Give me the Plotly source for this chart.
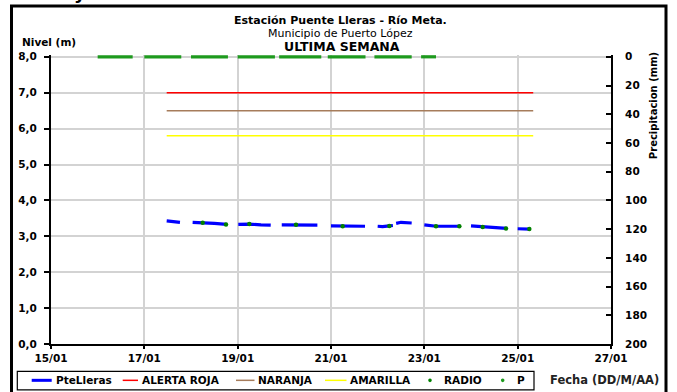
import plotly.graph_objects as go

# ---------------- data ----------------
LEVEL_TIME = [
    "2014-01-17 11:30", "2014-01-17 14:30", "2014-01-17 18:20", None,
    "2014-01-18 00:50", "2014-01-18 06:00", "2014-01-18 12:00", "2014-01-18 18:20", None,
    "2014-01-19 00:20", "2014-01-19 06:00", "2014-01-19 12:00", "2014-01-19 17:00", None,
    "2014-01-19 22:40", "2014-01-20 06:00", "2014-01-20 12:00", "2014-01-20 17:00", None,
    "2014-01-21 00:00", "2014-01-21 06:00", "2014-01-21 12:00", "2014-01-21 17:30", None,
    "2014-01-22 00:00", "2014-01-22 02:30", "2014-01-22 06:00", "2014-01-22 07:50", None,
    "2014-01-22 09:30", "2014-01-22 12:00", "2014-01-22 17:30", None,
    "2014-01-23 00:00", "2014-01-23 06:00", "2014-01-23 12:00", "2014-01-23 18:20", None,
    "2014-01-24 00:00", "2014-01-24 06:00", "2014-01-24 12:00", "2014-01-24 18:20", None,
    "2014-01-25 00:00", "2014-01-25 06:15",
]
LEVEL_M = [
    3.43, 3.41, 3.39, None,
    3.39, 3.38, 3.36, 3.33, None,
    3.33, 3.34, 3.32, 3.31, None,
    3.32, 3.32, 3.31, 3.31, None,
    3.29, 3.28, 3.28, 3.28, None,
    3.28, 3.27, 3.29, 3.30, None,
    3.36, 3.39, 3.37, None,
    3.32, 3.28, 3.28, 3.28, None,
    3.29, 3.26, 3.24, 3.22, None,
    3.21, 3.20,
]

RADIO_TIME = ["2014-01-18 06:00", "2014-01-18 18:00", "2014-01-19 06:00", "2014-01-20 06:00",
              "2014-01-21 06:00", "2014-01-22 06:00", "2014-01-23 06:00", "2014-01-23 18:00",
              "2014-01-24 06:00", "2014-01-24 18:00", "2014-01-25 06:00"]
RADIO_M = [3.38, 3.33, 3.34, 3.32, 3.28, 3.29, 3.28, 3.28, 3.26, 3.22, 3.20]

THRESH_TIME = ["2014-01-17 11:30", "2014-01-25 08:00"]
ALERTA_ROJA = [7.0, 7.0]
NARANJA = [6.5, 6.5]
AMARILLA = [5.8, 5.8]

P_TIME = [
    "2014-01-16 00:00", "2014-01-16 18:00", None,
    "2014-01-17 00:00", "2014-01-17 19:00", None,
    "2014-01-18 00:00", "2014-01-18 19:00", None,
    "2014-01-19 00:00", "2014-01-19 19:10", None,
    "2014-01-19 21:20", "2014-01-20 19:00", None,
    "2014-01-20 22:20", "2014-01-21 17:45", None,
    "2014-01-21 22:20", "2014-01-22 17:30", None,
    "2014-01-22 22:20", "2014-01-23 06:00",
]
P_MM = [0, 0, None, 0, 0, None, 0, 0, None, 0, 0, None, 0, 0, None,
        0, 0, None, 0, 0, None, 0, 0]

X_RANGE = ["2014-01-15", "2014-01-27"]

# ---------------- layout geometry ----------------
W, H = 677, 392
ML, MR, MT, MB = 51, 66, 54.9, 48.3
PW = W - ML - MR
PH = H - MT - MB


def px(x):
    return (x - ML) / PW


def py(y):
    return (H - MB - y) / PH


FONT = "DejaVu Sans"


def bfont(size, color="black", weight="bold"):
    return dict(family=FONT, size=size, color=color, weight=weight)


fig = go.Figure()

fig.add_trace(go.Scatter(x=THRESH_TIME, y=ALERTA_ROJA, mode="lines", name="ALERTA ROJA",
                         line=dict(color="#ff0000", width=1.5), showlegend=False))
fig.add_trace(go.Scatter(x=THRESH_TIME, y=NARANJA, mode="lines", name="NARANJA",
                         line=dict(color="#a67c5b", width=1.5), showlegend=False))
fig.add_trace(go.Scatter(x=THRESH_TIME, y=AMARILLA, mode="lines", name="AMARILLA",
                         line=dict(color="#ffff00", width=1.5), showlegend=False))
fig.add_trace(go.Scatter(x=LEVEL_TIME, y=LEVEL_M, mode="lines", name="PteLleras",
                         line=dict(color="#0000ff", width=3.2), connectgaps=False,
                         showlegend=False))
fig.add_trace(go.Scatter(x=RADIO_TIME, y=RADIO_M, mode="markers", name="RADIO",
                         marker=dict(color="#008000", size=4.5), showlegend=False))
fig.add_trace(go.Scatter(x=P_TIME, y=P_MM, mode="lines", name="P", yaxis="y2",
                         line=dict(color="#1e9a1e", width=3.2), connectgaps=False,
                         showlegend=False))

fig.update_layout(
    width=W, height=H,
    margin=dict(l=ML, r=MR, t=MT, b=MB, autoexpand=False),
    paper_bgcolor="white", plot_bgcolor="white",
    separators=",.",
    showlegend=False,
    xaxis=dict(
        type="date", range=X_RANGE, tick0="2014-01-15", dtick=2 * 86400000,
        tickformat="%d/%m", showgrid=True, gridcolor="#d3d3d3", gridwidth=1.5,
        showline=True, linecolor="black", linewidth=2, ticks="outside", ticklen=3,
        tickcolor="black", tickwidth=1.5, tickfont=bfont(10.5), zeroline=False,
        automargin=False,
    ),
    yaxis=dict(
        range=[0, 8.05], tick0=0, dtick=1, tickformat=".1f", showgrid=True,
        gridcolor="#d3d3d3", gridwidth=1.5, showline=True, linecolor="black",
        linewidth=2, ticks="outside", ticklen=5, tickcolor="black", tickwidth=1.5,
        tickfont=bfont(10.5), zeroline=False, automargin=False, ticklabelstandoff=5,
    ),
    yaxis2=dict(
        overlaying="y", side="right", range=[200, -1.25], tick0=0, dtick=20,
        showgrid=False, zeroline=False, showline=True, linecolor="black", linewidth=2,
        ticks="inside", ticklen=5, tickcolor="black", tickwidth=1.5,
        tickfont=bfont(10.5), automargin=False, ticklabelstandoff=10,
    ),
    yaxis3=dict(
        overlaying="y", side="right", range=[200, -1.25], tick0=0, dtick=20,
        showgrid=False, zeroline=False, showline=False, showticklabels=False,
        ticks="outside", ticklen=5, tickcolor="black", tickwidth=1.5, automargin=False,
    ),
)

annotations = [
    dict(text="Estación Puente Lleras - Río Meta.", x=px(340), y=py(20.5),
         font=bfont(11)),
    dict(text="Municipio de Puerto López", x=px(340), y=py(33),
         font=bfont(11, weight="normal")),
    dict(text="ULTIMA SEMANA", x=px(342), y=py(46), font=bfont(12.5)),
    dict(text="Nivel (m)", x=px(20), y=py(42), xanchor="left", font=bfont(10.5)),
    dict(text="Precipitacion (mm)", x=px(653), y=py(106), textangle=-90,
         font=bfont(10)),
    dict(text="Fecha (DD/M/AA)", x=px(604), y=py(380), font=bfont(11.5, color="#222222")),
    dict(text="y", x=px(80), y=py(4.5), yanchor="bottom", font=bfont(18)),
]

# manual legend
LEG_Y = 380
legend_items = [
    ("PteLleras", "line", "#0000ff", 3, 31.7, 51.7, 53.5),
    ("ALERTA ROJA", "line", "#ff0000", 1.5, 122.7, 138, 139.5),
    ("NARANJA", "line", "#a67c5b", 1.5, 236, 254.5, 256),
    ("AMARILLA", "line", "#ffff00", 1.5, 325, 346.5, 348),
    ("RADIO", "dot", "#008000", 0, 430, 430, 441.5),
    ("P", "dot", "#1e9a1e", 0, 502.7, 502.7, 515),
]

shapes = [
    dict(type="rect", xref="paper", yref="paper", x0=px(11.5), x1=px(666),
         y0=py(6), y1=py(410), line=dict(color="black", width=3)),
    dict(type="rect", xref="paper", yref="paper", x0=px(17.3), x1=px(534),
         y0=py(371), y1=py(389.5), line=dict(color="black", width=1.2)),
]
for label, kind, color, width, x0, x1, tx in legend_items:
    if kind == "line":
        shapes.append(dict(type="line", xref="paper", yref="paper", x0=px(x0), x1=px(x1),
                           y0=py(LEG_Y), y1=py(LEG_Y), line=dict(color=color, width=width)))
    else:
        r = 1.8
        shapes.append(dict(type="circle", xref="paper", yref="paper",
                           x0=px(x0 - r), x1=px(x0 + r), y0=py(LEG_Y + r), y1=py(LEG_Y - r),
                           fillcolor=color, line=dict(color=color, width=0)))
    annotations.append(dict(text=label, x=px(tx), y=py(LEG_Y), xanchor="left",
                            font=bfont(10.5)))

for a in annotations:
    a.setdefault("xref", "paper")
    a.setdefault("yref", "paper")
    a.setdefault("showarrow", False)
    a.setdefault("xanchor", "center")
    a.setdefault("yanchor", "middle")

fig.update_layout(annotations=annotations, shapes=shapes)

fig.write_html(
    "out.html",
    config={"displayModeBar": False},
    post_script="document.body.style.margin='0px';document.body.style.overflow='hidden';",
)
